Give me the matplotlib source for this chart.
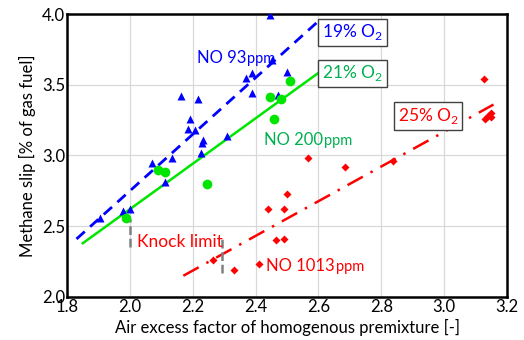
import numpy as np
import matplotlib
matplotlib.use("Agg")
import matplotlib.pyplot as plt

plt.rcParams['font.family'] = ['Lato', 'DejaVu Sans']
plt.rcParams['mathtext.fontset'] = 'custom'
plt.rcParams['mathtext.rm'] = 'Lato'

# 19 % O2, NO 93 ppm (blue triangles)
lam_19 = [2.446, 2.452, 2.50, 2.39, 2.37, 2.39, 2.47, 2.164, 2.218, 2.19, 2.186,
          2.208, 2.233, 2.23, 2.31, 2.227, 2.135, 2.07, 2.113, 1.977, 2.0, 1.905]
slip_19 = [3.99, 3.675, 3.59, 3.58, 3.55, 3.44, 3.43, 3.42, 3.40, 3.26, 3.19,
           3.18, 3.11, 3.09, 3.14, 3.02, 2.98, 2.95, 2.81, 2.61, 2.62, 2.56]

# 21 % O2, NO 200 ppm (green circles)
lam_21 = [2.509, 2.446, 2.48, 2.46, 2.088, 2.113, 2.246, 1.987]
slip_21 = [3.53, 3.41, 3.40, 3.26, 2.90, 2.88, 2.80, 2.56]

# 25 % O2, NO 1013 ppm (red diamonds)
lam_25 = [3.126, 3.13, 3.14, 3.15, 3.15, 2.566, 2.686, 2.838, 2.50, 2.44, 2.49,
          2.465, 2.49, 2.41, 2.265, 2.33]
slip_25 = [3.54, 3.26, 3.28, 3.30, 3.27, 2.98, 2.92, 2.96, 2.73, 2.62, 2.62,
           2.40, 2.41, 2.23, 2.26, 2.19]

# trend lines (end points)
fit_19 = ([1.83, 2.61], [2.41, 3.97])
fit_21 = ([1.85, 2.61], [2.38, 3.60])
fit_25 = ([2.17, 3.157], [2.15, 3.36])

# knock limit markers
knock_x = [2.0, 2.294]
knock_y = [(2.35, 2.55), (2.17, 2.43)]

blue = '#0000ff'
green_line = '#00e600'
green_txt = '#00b050'
red = '#ff0000'

fig = plt.figure(figsize=(5.24, 3.4), dpi=100)
ax = fig.add_axes([0.128, 0.1265, 0.8396, 0.8323])

ax.grid(True, color='#d9d9d9', lw=0.9, zorder=0)
ax.set_axisbelow(True)

ax.plot(*fit_19, color=blue, lw=2.0, dashes=(4, 2.6), zorder=3)
ax.plot(*fit_21, color=green_line, lw=1.8, zorder=3)
ax.plot(*fit_25, color=red, lw=1.8, dashes=(7, 3.5, 1, 3.5), zorder=3)

ax.plot(lam_19, slip_19, '^', color=blue, ms=6, mec='none', zorder=4)
ax.plot(lam_21, slip_21, 'o', color=green_line, ms=7, mec='none', zorder=4)
ax.plot(lam_25, slip_25, 'D', color=red, ms=4.5, mec='none', zorder=4)

for x, (y0, y1) in zip(knock_x, knock_y):
    ax.plot([x, x], [y0, y1], color='#808080', lw=1.8, dashes=(3.5, 1.5), zorder=3)
ax.text(2.022, 2.39, 'Knock limit', color=red, fontsize=12.5, va='center', ha='left')

def no_label(x, y, val, color):
    t = ax.text(x, y, 'NO ' + val, color=color, fontsize=12, va='baseline', ha='left')
    ax.annotate('ppm', xy=(1, 0), xycoords=t, color=color, fontsize=10.5,
                va='bottom', ha='left', xytext=(1, 0), textcoords='offset points')

no_label(2.212, 3.655, '93', blue)
no_label(2.427, 3.075, '200', green_txt)
no_label(2.433, 2.185, '1013', red)

box = dict(boxstyle='square,pad=0.22', fc='white', ec='#404040', lw=1.0)
ax.text(2.708, 3.87, r'19% O$_\mathregular{2}$', color=blue, fontsize=12.5,
        ha='center', va='center', bbox=box, zorder=5)
ax.text(2.708, 3.58, r'21% O$_\mathregular{2}$', color=green_txt, fontsize=12.5,
        ha='center', va='center', bbox=box, zorder=5)
ax.text(2.949, 3.28, r'25% O$_\mathregular{2}$', color=red, fontsize=12.5,
        ha='center', va='center', bbox=box, zorder=5)

ax.set_xlim(1.8, 3.2)
ax.set_ylim(2.0, 4.0)
ax.set_xticks(np.arange(1.8, 3.21, 0.2))
ax.set_yticks(np.arange(2.0, 4.01, 0.5))
ax.xaxis.set_major_formatter(plt.FormatStrFormatter('%.1f'))
ax.yaxis.set_major_formatter(plt.FormatStrFormatter('%.1f'))
ax.tick_params(length=0, labelsize=12, pad=1.5)
for s in ax.spines.values():
    s.set_linewidth(1.8)

ax.set_xlabel('Air excess factor of homogenous premixture [-]', fontsize=12, labelpad=3)
ax.set_ylabel('Methane slip [% of gas fuel]', fontsize=12, labelpad=4)

fig.savefig('out.png', dpi=100)
